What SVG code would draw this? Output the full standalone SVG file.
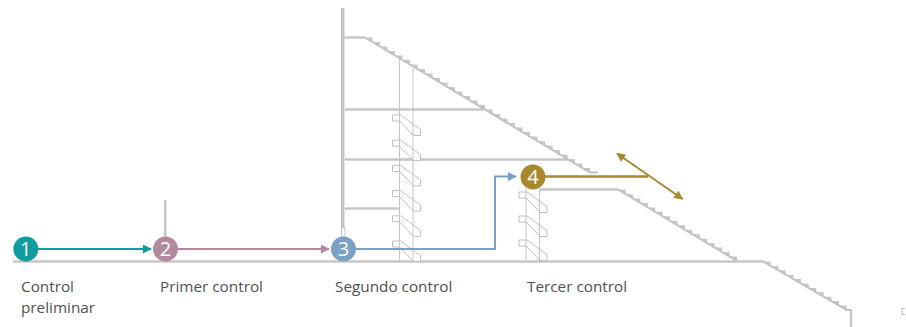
<svg xmlns="http://www.w3.org/2000/svg" xmlns:xlink="http://www.w3.org/1999/xlink" width="906" height="327" viewBox="0 0 906 327">
<style>
.fl{stroke:#c6c6c6;stroke-width:2.5;fill:none}
.thin{stroke:#c4c4c4;stroke-width:1;fill:none}
.stair{fill:#c8c8c8;stroke:none}
.diag{stroke:#c2c2c2;stroke-width:2;fill:none}
.esc{fill:#fff;stroke:#bfbfbf;stroke-width:1}
.lbl{font-family:"Open Sans","Noto Sans","Liberation Sans",sans-serif;font-size:15.3px;fill:#505050}
.num{font-family:"Open Sans","Noto Sans","Liberation Sans",sans-serif;font-size:20px;fill:#fff;text-anchor:middle}
</style>
<defs>
<path id="esc" class="esc" d="M-7 0H1L21 14.5V20.5H14L0 6H-7Z"/>
<marker id="mT" viewBox="0 0 10 10" refX="9" refY="5" markerWidth="10" markerHeight="9" markerUnits="userSpaceOnUse" orient="auto"><path d="M0 0L10 5L0 10Z" fill="#0e9c9e"/></marker>
<marker id="mM" viewBox="0 0 10 10" refX="9" refY="5" markerWidth="10" markerHeight="9" markerUnits="userSpaceOnUse" orient="auto"><path d="M0 0L10 5L0 10Z" fill="#b3899f"/></marker>
<marker id="mB" viewBox="0 0 10 10" refX="9" refY="5" markerWidth="10" markerHeight="9" markerUnits="userSpaceOnUse" orient="auto"><path d="M0 0L10 5L0 10Z" fill="#7ba0c4"/></marker>
<marker id="mG" viewBox="0 0 10 10" refX="9" refY="5" markerWidth="10" markerHeight="9" markerUnits="userSpaceOnUse" orient="auto-start-reverse"><path d="M0 0L10 5L0 10Z" fill="#a8882e"/></marker>
</defs>
<rect width="906" height="327" fill="#fff"/>
<g id="building">
<rect x="341" y="8" width="3.5" height="220" fill="#c6c6c6"/>
<rect x="341.5" y="228" width="3.5" height="10" fill="#fff" stroke="#c6c6c6" stroke-width="1"/>
<path class="fl" d="M344 37.5H365M345 109.5H483M345 159.5H568M345 208.5H399.5M540 189.5H618"/>
<path class="stair" d="M365 37.5h7.5v4.5h7.5v4.5h7.5v4.5h7.5v4.5h7.5v4.5h7.5v4.5h7.5v4.5h7.5v4.5h7.5v4.5h7.5v4.5h7.5v4.5h7.5v4.5h7.5v4.5h7.5v4.5h7.5v4.5h7.5v4.5h7.5v4.5h7.5v4.5h7.5v4.5h7.5v4.5h7.5v4.5h7.5v4.5h7.5v4.5h7.5v4.5h7.5v4.5h7.5v4.5h7.5v4.5h7.5v4.5h7.5v4.5h7.5v4.5Z"/>
<path class="diag" d="M365 37.5L590 172.5H598"/>
<path class="stair" d="M618 189.5h7.44v4.47h7.44v4.47h7.44v4.47h7.44v4.47h7.44v4.47h7.44v4.47h7.44v4.47h7.44v4.47h7.44v4.47h7.44v4.47h7.44v4.47h7.44v4.47h7.44v4.47h7.44v4.47h7.44v4.47h7.44v4.47Z"/>
<path class="diag" d="M618 189.5L737 261"/>
<path class="stair" d="M763 261.5h7.6v4.4h7.6v4.4h7.6v4.4h7.6v4.4h7.6v4.4h7.6v4.4h7.6v4.4h7.6v4.4h7.6v4.4h7.6v4.4h7.6v4.4Z"/>
<path class="diag" d="M763 261.5L846.6 309.9H851"/>
<path class="fl" d="M851 309V327"/>
<path class="fl" d="M13 261.5H764"/>
<rect x="164" y="200" width="2.5" height="40" fill="#c6c6c6"/>
<use xlink:href="#esc" x="399.5" y="115"/>
<use xlink:href="#esc" x="399.5" y="140.2"/>
<use xlink:href="#esc" x="399.5" y="165.4"/>
<use xlink:href="#esc" x="399.5" y="190.6"/>
<use xlink:href="#esc" x="399.5" y="215.8"/>
<use xlink:href="#esc" x="399.5" y="241"/>
<use xlink:href="#esc" x="526" y="192"/>
<use xlink:href="#esc" x="526" y="216"/>
<use xlink:href="#esc" x="526" y="240"/>
<path class="thin" d="M399.5 58.3V261M413 66.4V261M526 188V261M539.5 188V261"/>
<path d="M905 308.5h-3v6h3" stroke="#bbb" stroke-width="1" fill="none"/>
</g>
<g id="connectors">
<path d="M38 249H151" stroke="#0e9c9e" stroke-width="2" fill="none" marker-end="url(#mT)"/>
<path d="M178 249H329" stroke="#b3899f" stroke-width="2" fill="none" marker-end="url(#mM)"/>
<path d="M356 249H495V176.5H516" stroke="#7ba0c4" stroke-width="2" fill="none" marker-end="url(#mB)"/>
<path d="M545 176.5H648" stroke="#a8882e" stroke-width="2.5" fill="none"/>
<path d="M617 153.5L682.5 199" stroke="#a8882e" stroke-width="2" fill="none" marker-start="url(#mG)" marker-end="url(#mG)"/>
</g>
<g id="n1">
<circle cx="25.8" cy="249" r="12.5" fill="#0e9c9e"/>
<text class="num" x="25.8" y="256">1</text>
<text class="lbl" x="21" y="292">Control</text>
<text class="lbl" x="21" y="313">preliminar</text>
</g>
<g id="n2">
<circle cx="165.5" cy="249" r="12.5" fill="#b3899f"/>
<text class="num" x="165.5" y="256">2</text>
<text class="lbl" x="160" y="292">Primer control</text>
</g>
<g id="n3">
<circle cx="343.5" cy="249" r="12.5" fill="#7ba0c4"/>
<text class="num" x="343.5" y="256">3</text>
<text class="lbl" x="335" y="292">Segundo control</text>
</g>
<g id="n4">
<circle cx="533" cy="177" r="12.5" fill="#a8882e"/>
<text class="num" x="533" y="184">4</text>
<text class="lbl" x="527" y="292">Tercer control</text>
</g>
</svg>
